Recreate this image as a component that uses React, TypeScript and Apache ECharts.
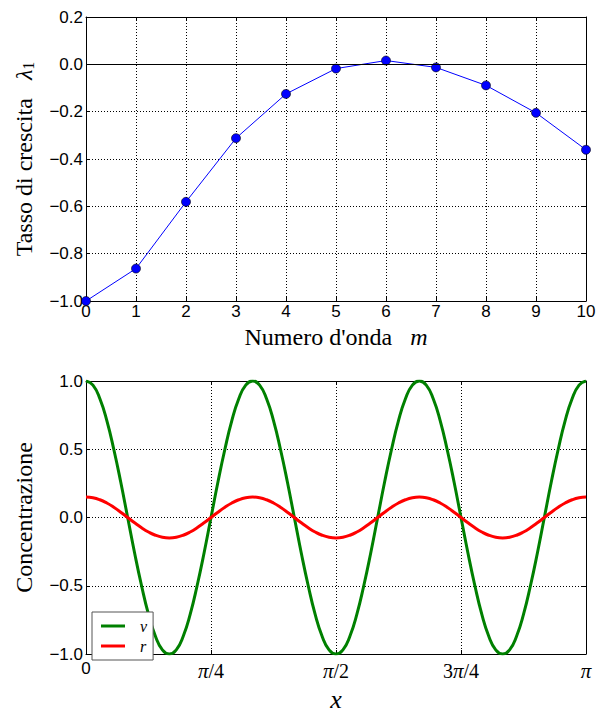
import { useEffect, useRef } from 'react';
import * as echarts from 'echarts';

// Top panel: growth rate vs wave number
const mValues = [0, 1, 2, 3, 4, 5, 6, 7, 8, 9, 10];
const lambda1 = [-1.0, -0.863, -0.581, -0.312, -0.125, -0.018, 0.016, -0.013, -0.089, -0.205, -0.361];

// Bottom panel: concentration profiles (x in radians)
const xSamples = [
  0, 0.0436, 0.0873, 0.1309, 0.1745, 0.2182, 0.2618, 0.3054,
  0.3491, 0.3927, 0.4363, 0.48, 0.5236, 0.5672, 0.6109, 0.6545,
  0.6981, 0.7418, 0.7854, 0.829, 0.8727, 0.9163, 0.9599, 1.0036,
  1.0472, 1.0908, 1.1345, 1.1781, 1.2217, 1.2654, 1.309, 1.3526,
  1.3963, 1.4399, 1.4835, 1.5272, 1.5708, 1.6144, 1.6581, 1.7017,
  1.7453, 1.789, 1.8326, 1.8762, 1.9199, 1.9635, 2.0071, 2.0508,
  2.0944, 2.138, 2.1817, 2.2253, 2.2689, 2.3126, 2.3562, 2.3998,
  2.4435, 2.4871, 2.5307, 2.5744, 2.618, 2.6616, 2.7053, 2.7489,
  2.7925, 2.8362, 2.8798, 2.9234, 2.9671, 3.0107, 3.0543, 3.098,
  3.14159,
];
const vValues = [
  1, 0.97, 0.87, 0.71, 0.5, 0.26, 0, -0.26, -0.5, -0.71, -0.87, -0.97,
  -1, -0.97, -0.87, -0.71, -0.5, -0.26, 0, 0.26, 0.5, 0.71, 0.87, 0.97,
  1, 0.97, 0.87, 0.71, 0.5, 0.26, 0, -0.26, -0.5, -0.71, -0.87, -0.97,
  -1, -0.97, -0.87, -0.71, -0.5, -0.26, 0, 0.26, 0.5, 0.71, 0.87, 0.97,
  1, 0.97, 0.87, 0.71, 0.5, 0.26, 0, -0.26, -0.5, -0.71, -0.87, -0.97,
  -1, -0.97, -0.87, -0.71, -0.5, -0.26, 0, 0.26, 0.5, 0.71, 0.87, 0.97,
  1,
];
const rValues = [
  0.15, 0.145, 0.13, 0.106, 0.075, 0.039, 0, -0.039, -0.075, -0.106, -0.13, -0.145,
  -0.15, -0.145, -0.13, -0.106, -0.075, -0.039, 0, 0.039, 0.075, 0.106, 0.13, 0.145,
  0.15, 0.145, 0.13, 0.106, 0.075, 0.039, 0, -0.039, -0.075, -0.106, -0.13, -0.145,
  -0.15, -0.145, -0.13, -0.106, -0.075, -0.039, 0, 0.039, 0.075, 0.106, 0.13, 0.145,
  0.15, 0.145, 0.13, 0.106, 0.075, 0.039, 0, -0.039, -0.075, -0.106, -0.13, -0.145,
  -0.15, -0.145, -0.13, -0.106, -0.075, -0.039, 0, 0.039, 0.075, 0.106, 0.13, 0.145,
  0.15,
];
const xTickLabels = ['0', 'π/4', 'π/2', '3π/4', 'π'];
const seriesNames = ['v', 'r'];

const SANS = 'Liberation Sans, Arial, sans-serif';
const SERIF = 'Liberation Serif, DejaVu Serif, serif';

const fmtY = (v: number) => (Math.abs(v) < 1e-9 ? '0.0' : v.toFixed(1).replace('-', '−'));

const gridLine = { show: true, lineStyle: { color: '#000', width: 1, type: [1, 2] as any } };
const axisLine = { show: true, onZero: false, lineStyle: { color: '#000', width: 1 } };
const tickIn = { show: true, inside: true, length: 4, lineStyle: { color: '#000' } };

function xLabelRich(val: number) {
  const idx = Math.round(val / (Math.PI / 4));
  const lab = xTickLabels[idx] ?? '';
  if (lab === '0') return '{s|0}';
  return lab
    .split(/(π)/)
    .filter((p) => p !== '')
    .map((p) => (p === 'π' ? '{i|π}' : '{n|' + p + '}'))
    .join('');
}

export default function App() {
  const ref = useRef<HTMLDivElement>(null);
  useEffect(() => {
    const chart = echarts.init(ref.current!, null, { renderer: 'svg' });
    const option: any = {
      animation: false,
      backgroundColor: '#fff',
      grid: [
        { left: 86, top: 17, width: 500, height: 284 },
        { left: 86, top: 381, width: 500, height: 283 },
      ],
      legend: {
        data: seriesNames,
        orient: 'vertical',
        left: 92,
        top: 612,
        padding: [6, 6, 6, 9],
        itemGap: 4,
        itemWidth: 24,
        itemHeight: 3,
        icon: 'rect',
        borderColor: '#555',
        borderWidth: 1,
        backgroundColor: '#fff',
        textStyle: { fontFamily: SERIF, fontStyle: 'italic', fontSize: 16, color: '#000', padding: [0, 0, 0, 10] },
      },
      xAxis: [
        {
          gridIndex: 0, type: 'value', min: 0, max: 10, interval: 1,
          axisLine, axisTick: tickIn, splitLine: gridLine,
          axisLabel: { color: '#000', fontFamily: SANS, fontSize: 17, margin: 2 },
          name: '{a|Numero d\'onda   }{m|m}', nameLocation: 'middle', nameGap: 24,
          nameTextStyle: {
            rich: {
              a: { fontFamily: SERIF, fontSize: 24, color: '#000' },
              m: { fontFamily: SERIF, fontSize: 24, fontStyle: 'italic', color: '#000' },
            },
          },
        },
        {
          gridIndex: 0, type: 'value', position: 'top', min: 0, max: 10, interval: 1,
          axisLine, axisTick: tickIn, splitLine: { show: false }, axisLabel: { show: false },
        },
        {
          gridIndex: 1, type: 'value', min: 0, max: Math.PI, interval: Math.PI / 4,
          axisLine, axisTick: tickIn, splitLine: gridLine,
          axisLabel: {
            color: '#000', fontFamily: SERIF, fontSize: 20, margin: 6,
            formatter: (v: number) => xLabelRich(v),
            rich: {
              s: { fontFamily: SANS, fontSize: 17, color: '#000' },
              i: { fontFamily: SERIF, fontSize: 21, fontStyle: 'italic', color: '#000' },
              n: { fontFamily: SERIF, fontSize: 20, color: '#000' },
            },
          },
          name: 'x', nameLocation: 'middle', nameGap: 32,
          nameTextStyle: { fontFamily: SERIF, fontSize: 26, fontStyle: 'italic', color: '#000' },
        },
        {
          gridIndex: 1, type: 'value', position: 'top', min: 0, max: Math.PI, interval: Math.PI / 4,
          axisLine, axisTick: tickIn, splitLine: { show: false }, axisLabel: { show: false },
        },
      ],
      yAxis: [
        {
          gridIndex: 0, type: 'value', min: -1, max: 0.2, interval: 0.2,
          axisLine, axisTick: tickIn, splitLine: gridLine,
          axisLabel: { color: '#000', fontFamily: SANS, fontSize: 17, margin: 3, formatter: fmtY },
          name: '{a|Tasso di crescita   }{l|λ}{s|1}', nameLocation: 'middle', nameGap: 50,
          nameTextStyle: {
            rich: {
              a: { fontFamily: SERIF, fontSize: 24, color: '#000' },
              l: { fontFamily: SERIF, fontSize: 24, fontStyle: 'italic', color: '#000' },
              s: { fontFamily: SERIF, fontSize: 16, color: '#000', verticalAlign: 'bottom', padding: [9, 0, 0, 0] },
            },
          },
        },
        {
          gridIndex: 0, type: 'value', position: 'right', min: -1, max: 0.2, interval: 0.2,
          axisLine, axisTick: tickIn, splitLine: { show: false }, axisLabel: { show: false },
        },
        {
          gridIndex: 1, type: 'value', min: -1, max: 1, interval: 0.5,
          axisLine, axisTick: tickIn, splitLine: gridLine,
          axisLabel: { color: '#000', fontFamily: SANS, fontSize: 17, margin: 3, formatter: fmtY },
          name: 'Concentrazione', nameLocation: 'middle', nameGap: 50,
          nameTextStyle: { fontFamily: SERIF, fontSize: 24, color: '#000' },
        },
        {
          gridIndex: 1, type: 'value', position: 'right', min: -1, max: 1, interval: 0.5,
          axisLine, axisTick: tickIn, splitLine: { show: false }, axisLabel: { show: false },
        },
      ],
      series: [
        {
          type: 'line', xAxisIndex: 0, yAxisIndex: 0,
          data: mValues.map((m, i) => [m, lambda1[i]]),
          lineStyle: { color: '#0000ff', width: 1 },
          symbol: 'circle', symbolSize: 9,
          itemStyle: { color: '#0000ff', borderColor: '#000', borderWidth: 0.6 },
          markLine: {
            silent: true, symbol: 'none', label: { show: false },
            lineStyle: { color: '#000', width: 1, type: 'solid' },
            data: [{ yAxis: 0 }],
          },
        },
        {
          type: 'line', name: seriesNames[0], xAxisIndex: 2, yAxisIndex: 2,
          data: xSamples.map((x, i) => [x, vValues[i]]),
          smooth: true, showSymbol: false, symbol: 'none',
          lineStyle: { color: '#008000', width: 3 },
          itemStyle: { color: '#008000' },
        },
        {
          type: 'line', name: seriesNames[1], xAxisIndex: 2, yAxisIndex: 2,
          data: xSamples.map((x, i) => [x, rValues[i]]),
          smooth: true, showSymbol: false, symbol: 'none',
          lineStyle: { color: '#ff0000', width: 3 },
          itemStyle: { color: '#ff0000' },
        },
      ],
    };
    chart.setOption(option);
    return () => chart.dispose();
  }, []);
  return (
    <div
      ref={ref}
      style={{ position: 'absolute', left: 0, top: 0, width: 605, height: 713, background: '#fff' }}
    />
  );
}
